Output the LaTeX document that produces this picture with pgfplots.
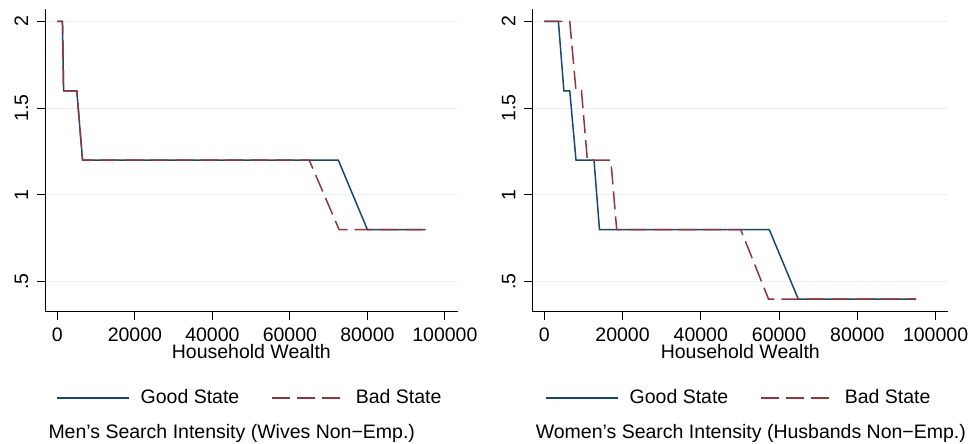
\documentclass[border=0pt]{standalone}
\usepackage{pgfplots}
\pgfplotsset{compat=1.18}
\usepackage{pgfplotstable}
\usepackage{fontspec}
\setmainfont{Liberation Sans}
\definecolor{stnavy}{RGB}{26,71,111}
\definecolor{stmaroon}{RGB}{144,53,59}
\definecolor{stgrid}{RGB}{232,240,243}

\pgfplotstableread{
x y
0 2
1300 2
1600 1.6
5000 1.6
6500 1.2
72500 1.2
80000 0.8
95000 0.8
}\leftgood
\pgfplotstableread{
x y
0 2
1300 2
1600 1.6
5000 1.6
6500 1.2
65000 1.2
72700 0.8
95000 0.8
}\leftbad
\pgfplotstableread{
x y
0 2
3600 2
5000 1.6
6500 1.6
8100 1.2
12700 1.2
14100 0.8
57500 0.8
64900 0.4
95000 0.4
}\rightgood
\pgfplotstableread{
x y
0 2
6500 2
8100 1.6
9500 1.6
11000 1.2
17000 1.2
18500 0.8
50200 0.8
57300 0.4
95000 0.4
}\rightbad

\pgfplotsset{
  statastyle/.style={
    scale only axis,
    height=302.4pt,
    anchor=south west,
    xmin=-3200, xmax=103300,
    ymin=0.327, ymax=2.07,
    axis x line*=bottom,
    axis y line*=left,
    axis line style={line width=0.9pt, black},
    every tick/.style={line width=0.9pt, black},
    major tick length=8pt,
    tick align=outside,
    scaled x ticks=false,
    xtick={0,20000,40000,60000,80000,100000},
    xticklabels={0,20000,40000,60000,80000,100000},
    ytick={0.5,1,1.5,2},
    yticklabels={.5,1,1.5,2},
    yticklabel style={rotate=90, anchor=base, yshift=9pt},
    xticklabel style={anchor=north, yshift=-1pt},
    ymajorgrids,
    major grid style={stgrid, line width=0.9pt},
    clip=false,
    xlabel={Household Wealth},
    xlabel style={at={(axis description cs:0.5,-0.156)}, anchor=base},
    legend style={at={(axis description cs:0.5,-0.285)}, anchor=center, draw=none,
      legend columns=2, font=\fontsize{19.5}{23}\selectfont,
      /tikz/every even column/.append style={column sep=27pt},
      nodes={inner sep=5pt}},
    legend image code/.code={\draw[#1] (0pt,0pt) -- (72pt,0pt);},
    font=\fontsize{19.5}{23}\selectfont,
  },
  good/.style={stnavy, line width=1.5pt},
  bad/.style={stmaroon, line width=1.5pt, dash pattern=on 18pt off 7pt},
}

\begin{document}
\fontsize{19.5}{23}\selectfont
\begin{tikzpicture}
\useasboundingbox (0,0) rectangle (979pt,444pt);
\begin{axis}[statastyle, at={(45pt,132.3pt)}, width=412.7pt]
\addplot[good] table[x=x,y=y] {\leftgood};
\addlegendentry{\hspace{6pt}Good State}
\addplot[bad] table[x=x,y=y] {\leftbad};
\addlegendentry{\hspace{6pt}Bad State}
\node[anchor=base west, inner sep=0pt] at (axis description cs:0.008,-0.4177) {Men’s Search Intensity (Wives Non−Emp.)};
\end{axis}
\begin{axis}[statastyle, at={(532.3pt,132.3pt)}, width=416pt, xmin=-3070, xmax=103250]
\addplot[good] table[x=x,y=y] {\rightgood};
\addlegendentry{\hspace{6pt}Good State}
\addplot[bad] table[x=x,y=y] {\rightbad};
\addlegendentry{\hspace{6pt}Bad State}
\node[anchor=base west, inner sep=0pt] at (axis description cs:0.008,-0.4177) {Women’s Search Intensity (Husbands Non−Emp.)};
\end{axis}
\end{tikzpicture}
\end{document}
